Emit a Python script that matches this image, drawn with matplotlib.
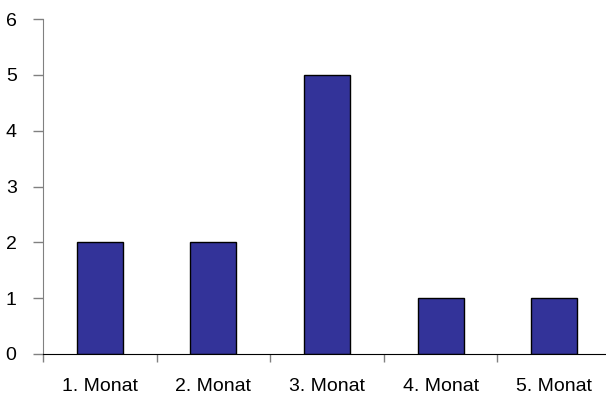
import matplotlib.pyplot as plt
import numpy as np

plt.rcParams['font.family'] = ['Liberation Sans', 'DejaVu Sans']

months = ['1. Monat', '2. Monat', '3. Monat', '4. Monat', '5. Monat']
counts = [2, 2, 5, 1, 1]
y_ticks = [0, 1, 2, 3, 4, 5, 6]

fig = plt.figure(figsize=(6.06, 4.00), dpi=100)
W, H = 606, 400
ax = fig.add_axes([43 / W, (H - 354) / H, 568 / W, 335 / H])

x = np.arange(len(months))
ax.bar(x, counts, width=0.405, color='#333399', edgecolor='black', linewidth=1.0, zorder=2)

ax.set_xlim(-0.5, len(months) - 0.5)
ax.set_ylim(0, 6)
ax.set_yticks(y_ticks)
ax.set_yticklabels([str(v) for v in y_ticks], fontsize=14)

# category labels centered, tick marks on the boundaries
ax.set_xticks(np.arange(len(months) + 1) - 0.5)
ax.set_xticklabels([])
ax.set_xticks(x, minor=True)
ax.set_xticklabels(months, minor=True, fontsize=14)
ax.tick_params(axis='x', which='minor', length=0, pad=17)
ax.tick_params(axis='x', which='major', length=6, color='#808080', width=1)
ax.tick_params(axis='y', length=7, color='#808080', width=1, pad=12)

ax.spines['top'].set_visible(False)
ax.spines['right'].set_visible(False)
ax.spines['left'].set_color('#808080')
ax.spines['bottom'].set_color('black')

fig.savefig('out.png', dpi=100)
